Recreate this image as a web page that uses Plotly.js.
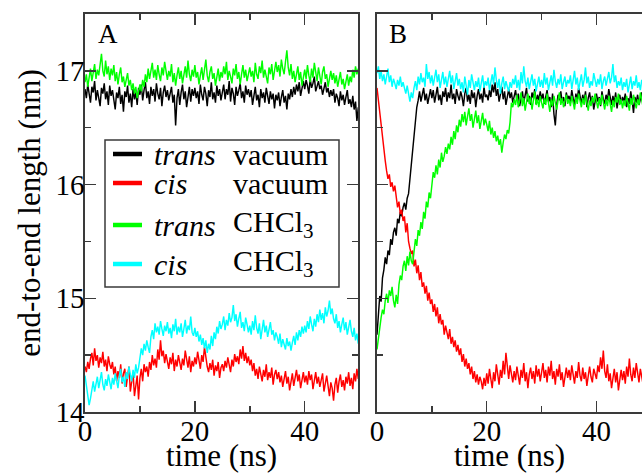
<!DOCTYPE html>
<html>
<head>
<meta charset="utf-8">
<script src="https://cdn.plot.ly/plotly-3.0.1.min.js"></script>
<style>html,body{margin:0;padding:0;background:#fff;}#chart{width:642px;height:473px;}</style>
</head>
<body>
<div id="chart"></div>
<script>
// sampling interval of every series (ns), series start at t = 0
const timeStep = 0.25;

// ---- Panel A : end-to-end length (nm) ----
const aTransVacuum = [
16.84,16.76,16.88,16.79,16.72,16.86,16.81,16.91,16.74,16.83,16.77,16.69,16.85,16.80,16.89,16.75,16.82,16.70,16.87,16.78,
16.83,16.73,16.66,16.81,16.76,16.86,16.71,16.79,16.64,16.82,16.77,16.87,16.72,16.80,16.68,16.84,16.75,16.81,16.70,16.85,
16.79,16.88,16.74,16.83,16.90,16.76,16.82,16.71,16.86,16.78,16.84,16.73,16.89,16.80,16.75,16.85,16.69,16.81,16.87,16.77,
16.83,16.74,16.80,16.86,16.72,16.79,16.52,16.76,16.84,16.70,16.81,16.88,16.75,16.82,16.68,16.79,16.86,16.73,16.84,16.78,
16.85,16.76,16.82,16.71,16.88,16.79,16.74,16.86,16.80,16.69,16.83,16.77,16.90,16.75,16.81,16.72,16.87,16.78,16.84,16.74,
16.82,16.88,16.75,16.84,16.79,16.91,16.73,16.85,16.80,16.70,16.86,16.78,16.83,16.89,16.76,16.82,16.72,16.87,16.79,16.84,
16.77,16.83,16.70,16.80,16.86,16.74,16.79,16.68,16.84,16.76,16.81,16.72,16.85,16.78,16.71,16.82,16.75,16.80,16.67,16.79,
16.74,16.81,16.69,16.77,16.83,16.72,16.78,16.66,16.80,16.75,16.84,16.77,16.86,16.79,16.88,16.82,16.90,16.78,16.85,16.91,
16.84,16.92,16.87,16.80,16.93,16.85,16.89,16.95,16.82,16.88,16.91,16.84,16.87,16.79,16.86,16.90,16.81,16.85,16.77,16.83,
16.78,16.84,16.72,16.80,16.76,16.69,16.82,16.74,16.79,16.70,16.77,16.83,16.71,16.75,16.68,16.78,16.66,16.73,16.56,16.68];

const aCisVacuum = [
14.40,14.35,14.44,14.38,14.47,14.52,14.41,14.56,14.45,14.50,14.39,14.48,14.43,14.53,14.40,14.46,14.36,14.49,14.42,14.38,
14.44,14.33,14.40,14.27,14.36,14.30,14.42,14.25,14.34,14.38,14.22,14.31,14.40,14.18,14.29,14.35,14.14,14.26,14.32,14.11,
14.30,14.38,14.27,14.42,14.35,14.40,14.31,14.44,14.37,14.50,14.41,14.47,14.39,14.55,14.46,14.63,14.49,14.54,14.43,14.51,
14.45,14.38,14.48,14.42,14.52,14.36,14.46,14.40,14.50,14.43,14.37,14.47,14.41,14.54,14.44,14.39,14.49,14.35,14.45,14.40,
14.48,14.42,14.53,14.45,14.38,14.50,14.44,14.57,14.46,14.40,14.35,14.43,14.37,14.46,14.32,14.41,14.36,14.44,14.30,14.39,
14.42,14.36,14.45,14.39,14.48,14.41,14.35,14.46,14.40,14.51,14.44,14.49,14.42,14.55,14.47,14.58,14.45,14.52,14.43,14.49,
14.41,14.46,14.36,14.43,14.32,14.38,14.29,14.40,14.34,14.27,14.37,14.31,14.42,14.28,14.35,14.30,14.39,14.24,14.33,14.37,
14.29,14.35,14.26,14.32,14.22,14.30,14.36,14.25,14.31,14.19,14.28,14.34,14.23,14.30,14.37,14.27,14.33,14.21,14.29,14.35,
14.26,14.32,14.24,14.36,14.28,14.33,14.20,14.30,14.35,14.25,14.31,14.22,14.29,14.34,14.18,14.27,14.32,14.23,14.14,14.26,
14.21,14.10,14.24,14.30,14.17,14.27,14.33,14.22,14.28,14.19,14.31,14.25,14.35,14.23,14.30,14.20,14.34,14.27,14.38,14.29];

const aTransCHCl3 = [
16.90,16.97,16.86,16.94,17.02,16.91,16.99,17.06,16.93,17.01,16.96,17.08,17.15,17.00,16.95,17.09,16.97,17.04,16.92,17.02,
16.96,17.05,16.91,16.99,16.88,16.97,17.03,16.90,16.95,16.86,16.93,16.98,16.87,16.92,16.83,16.89,16.80,16.86,16.76,16.84,
16.88,16.82,16.92,16.86,16.97,16.90,17.02,16.93,16.99,17.07,16.94,17.01,16.92,17.05,16.97,16.91,17.03,16.96,17.08,16.98,
16.92,17.00,16.95,17.06,16.90,16.98,16.87,16.96,17.03,16.93,17.00,16.89,16.97,17.04,16.94,17.09,16.97,16.91,17.01,16.95,
17.05,16.94,16.99,16.88,16.96,17.03,16.92,17.00,17.10,16.96,16.90,16.99,17.04,16.93,16.98,16.87,16.95,17.02,16.91,16.99,
16.94,17.04,16.97,17.08,16.92,17.00,16.95,16.89,17.02,16.96,17.06,16.93,16.99,16.88,16.97,17.05,16.94,17.01,16.91,16.98,
17.03,16.95,17.00,16.90,17.07,16.97,16.93,17.04,16.98,17.09,16.94,17.01,16.96,16.89,17.03,16.97,17.06,16.92,17.00,17.08,
16.99,17.05,16.95,17.10,17.02,16.97,17.08,17.18,17.03,16.96,17.06,16.93,17.00,16.90,16.97,17.04,16.92,16.99,16.87,16.95,
17.01,16.93,17.05,16.96,16.90,17.02,16.94,17.07,16.98,16.91,17.03,16.95,16.88,16.99,17.04,16.93,16.97,16.86,16.95,17.00,
16.92,16.98,16.89,16.96,16.86,16.94,16.99,16.88,16.93,16.84,16.91,16.97,16.87,16.95,16.90,17.01,16.94,17.04,16.97,17.02];

const aCisCHCl3 = [
14.32,14.22,14.15,14.06,14.12,14.20,14.27,14.18,14.25,14.31,14.21,14.28,14.35,14.24,14.19,14.29,14.23,14.33,14.26,14.20,
14.30,14.24,14.34,14.27,14.21,14.32,14.38,14.26,14.31,14.22,14.35,14.29,14.40,14.33,14.27,14.37,14.30,14.42,14.34,14.39,
14.48,14.56,14.50,14.60,14.54,14.63,14.57,14.52,14.66,14.72,14.64,14.78,14.70,14.75,14.68,14.80,14.73,14.67,14.76,14.71,
14.79,14.69,14.74,14.65,14.77,14.71,14.82,14.68,14.75,14.70,14.78,14.66,14.73,14.81,14.69,14.76,14.72,14.84,14.70,14.67,
14.74,14.66,14.71,14.62,14.68,14.59,14.65,14.56,14.63,14.52,14.60,14.55,14.67,14.58,14.70,14.64,14.75,14.69,14.80,14.73,
14.77,14.84,14.72,14.81,14.76,14.87,14.79,14.83,14.94,14.80,14.86,14.75,14.82,14.88,14.74,14.79,14.71,14.83,14.77,14.70,
14.76,14.68,14.80,14.72,14.85,14.74,14.69,14.78,14.64,14.73,14.81,14.70,14.76,14.66,14.74,14.79,14.68,14.72,14.63,14.70,
14.66,14.60,14.69,14.57,14.64,14.59,14.55,14.65,14.58,14.62,14.54,14.61,14.67,14.59,14.70,14.63,14.72,14.66,14.75,14.69,
14.76,14.70,14.80,14.73,14.84,14.77,14.71,14.82,14.75,14.86,14.79,14.90,14.81,14.87,14.78,14.92,14.84,14.89,14.98,14.86,
14.91,14.82,14.78,14.86,14.74,14.80,14.70,14.77,14.83,14.72,14.79,14.68,14.75,14.81,14.71,14.66,14.74,14.63,14.69,14.60];

// ---- Panel B : end-to-end length (nm) ----
const bTransVacuum = [
14.68,14.88,15.02,14.97,15.18,15.25,15.36,15.30,15.42,15.38,15.52,15.47,15.58,15.62,15.55,15.70,15.66,15.76,15.72,15.80,
15.84,15.78,15.88,15.92,16.05,16.20,16.33,16.47,16.58,16.68,16.74,16.82,16.73,16.78,16.85,16.74,16.80,16.71,16.79,16.84,
16.76,16.83,16.72,16.80,16.86,16.74,16.79,16.70,16.82,16.77,16.85,16.73,16.81,16.76,16.88,16.75,16.80,16.71,16.84,16.78,
16.74,16.82,16.77,16.69,16.80,16.85,16.73,16.79,16.71,16.83,16.76,16.81,16.68,16.78,16.84,16.75,16.80,16.72,16.86,16.77,
16.79,16.74,16.83,16.77,16.88,16.81,16.90,16.78,16.84,16.73,16.80,16.86,16.75,16.82,16.70,16.79,16.84,16.76,16.81,16.72,
16.78,16.83,16.74,16.80,16.69,16.77,16.82,16.72,16.79,16.85,16.73,16.78,16.70,16.81,16.76,16.84,16.71,16.79,16.74,16.82,
16.75,16.80,16.71,16.78,16.83,16.73,16.77,16.68,16.80,16.62,16.52,16.70,16.79,16.74,16.82,16.72,16.77,16.69,16.81,16.75,
16.78,16.72,16.83,16.76,16.70,16.80,16.74,16.85,16.77,16.71,16.79,16.73,16.82,16.68,16.76,16.81,16.72,16.78,16.66,16.75,
16.80,16.73,16.77,16.69,16.82,16.75,16.71,16.79,16.74,16.84,16.76,16.70,16.78,16.72,16.81,16.67,16.75,16.79,16.71,16.77,
16.73,16.80,16.68,16.76,16.71,16.82,16.74,16.63,16.77,16.72,16.79,16.70,16.75,16.81,16.73,16.69,16.78,16.74,16.80,16.72];

const bCisVacuum = [
16.85,16.74,16.60,16.49,16.40,16.29,16.21,16.12,16.05,16.09,15.98,16.02,15.94,15.99,15.88,15.80,15.85,15.74,15.78,15.68,
15.72,15.58,15.66,15.50,15.44,15.39,15.42,15.28,15.34,15.22,15.29,15.16,15.23,15.10,15.14,15.04,15.11,14.98,15.05,14.95,
14.99,14.88,14.95,14.84,14.92,14.78,14.86,14.77,14.81,14.68,14.76,14.70,14.64,14.73,14.60,14.66,14.57,14.63,14.53,14.59,
14.50,14.56,14.44,14.51,14.40,14.47,14.38,14.43,14.33,14.40,14.29,14.36,14.26,14.33,14.24,14.31,14.27,14.20,14.30,14.23,
14.34,14.25,14.38,14.29,14.21,14.35,14.27,14.42,14.31,14.24,14.37,14.30,14.45,14.33,14.52,14.38,14.29,14.41,14.34,14.26,
14.36,14.28,14.40,14.32,14.24,14.37,14.30,14.43,14.27,14.35,14.21,14.33,14.39,14.29,14.36,14.25,14.41,14.31,14.38,14.27,
14.34,14.43,14.30,14.37,14.26,14.40,14.32,14.45,14.29,14.36,14.24,14.38,14.31,14.42,14.28,14.35,14.22,14.33,14.39,14.30,
14.37,14.28,14.41,14.33,14.25,14.36,14.30,14.44,14.32,14.27,14.39,14.29,14.35,14.23,14.34,14.40,14.31,14.26,14.38,14.33,
14.29,14.41,14.35,14.48,14.38,14.54,14.36,14.30,14.42,14.27,14.34,14.21,14.32,14.38,14.26,14.35,14.19,14.30,14.37,14.28,
14.36,14.25,14.40,14.31,14.47,14.33,14.27,14.39,14.30,14.43,14.34,14.26,14.38,14.31,14.24,14.36,14.29,14.41,14.33,14.28];

const bTransCHCl3 = [
14.55,14.66,14.74,14.83,14.90,14.86,14.98,15.04,14.96,15.07,15.02,15.10,14.98,14.92,15.03,14.95,15.12,15.20,15.16,15.28,
15.33,15.24,15.37,15.29,15.41,15.33,15.30,15.44,15.52,15.46,15.60,15.55,15.67,15.61,15.76,15.70,15.85,15.80,15.93,15.88,
16.02,16.11,16.06,16.17,16.09,16.22,16.15,16.28,16.20,16.25,16.33,16.27,16.36,16.31,16.42,16.35,16.47,16.40,16.52,16.46,
16.57,16.51,16.62,16.55,16.64,16.52,16.60,16.67,16.56,16.62,16.50,16.59,16.65,16.54,16.61,16.49,16.57,16.63,16.52,16.58,
16.53,16.47,16.56,16.44,16.50,16.41,16.47,16.38,16.43,16.35,16.40,16.28,16.37,16.44,16.40,16.48,16.45,16.55,16.72,16.68,
16.75,16.70,16.79,16.68,16.74,16.81,16.69,16.76,16.65,16.73,16.80,16.71,16.77,16.66,16.74,16.82,16.70,16.75,16.68,16.78,
16.72,16.67,16.76,16.70,16.80,16.73,16.64,16.75,16.69,16.78,16.71,16.66,16.74,16.81,16.70,16.76,16.68,16.73,16.79,16.71,
16.75,16.69,16.78,16.72,16.66,16.77,16.71,16.80,16.74,16.68,16.76,16.70,16.79,16.73,16.65,16.74,16.69,16.77,16.72,16.80,
16.73,16.67,16.76,16.70,16.79,16.72,16.66,16.75,16.69,16.78,16.71,16.64,16.74,16.68,16.77,16.72,16.80,16.70,16.75,16.67,
16.74,16.69,16.78,16.71,16.65,16.76,16.70,16.79,16.73,16.67,16.75,16.70,16.81,16.72,16.68,16.77,16.71,16.76,16.69,16.74];

const bCisCHCl3 = [
16.98,17.04,16.93,17.00,16.91,16.97,16.88,16.95,17.02,16.90,16.96,16.86,16.93,16.89,16.84,16.92,16.87,16.95,16.86,16.90,
16.84,16.80,16.87,16.78,16.73,16.81,16.76,16.85,16.91,16.83,16.95,16.88,16.98,16.90,16.94,16.86,17.06,16.93,16.99,16.89,
16.96,16.87,16.93,17.01,16.90,16.97,16.85,16.94,16.99,16.88,16.95,16.86,16.92,17.00,16.89,16.96,16.84,16.91,16.98,16.87,
16.93,16.84,16.90,16.81,16.95,16.87,16.79,16.92,16.85,16.97,16.88,16.83,16.91,16.86,16.94,16.82,16.89,16.96,16.85,16.91,
16.87,16.94,16.83,16.90,16.97,16.88,17.03,16.92,16.85,16.93,16.80,16.89,16.95,16.84,16.91,16.86,16.82,16.90,16.85,16.93,
16.88,16.96,16.85,16.92,16.83,16.99,16.89,17.04,16.91,16.86,16.94,16.84,16.90,16.97,16.87,16.93,16.82,16.89,16.95,16.86,
16.92,16.85,16.98,16.88,16.94,16.83,16.90,16.96,16.87,17.01,16.91,16.85,16.93,16.88,16.97,16.84,16.90,16.95,16.86,16.92,
16.89,16.96,16.84,16.91,17.00,16.88,16.94,16.83,16.90,16.97,16.86,16.92,17.03,16.89,16.95,16.85,16.91,16.87,16.98,16.90,
16.86,16.93,16.88,16.97,16.84,16.91,16.95,16.87,16.92,16.99,16.89,16.94,17.06,16.90,16.96,16.85,16.91,16.87,16.94,16.83,
16.90,16.86,16.93,16.81,16.88,16.95,16.84,16.91,16.87,16.96,16.85,16.90,16.83,16.92,16.88,16.94,16.86,16.91,16.84,16.89];

const seriesNames = ["trans vacuum", "cis vacuum", "trans CHCl3", "cis CHCl3"];
const seriesColors = ["#000000", "#ff0000", "#00ff00", "#00ffff"];
const legendItalic = ["trans", "cis", "trans", "cis"];
const legendMedium = ["vacuum", "vacuum", "CHCl<sub>3</sub>", "CHCl<sub>3</sub>"];
const xTickVals = [0, 20, 40];
const yTickVals = [14, 15, 16, 17];
const panelLabels = ["A", "B"];

const panelA = [aTransVacuum, aCisVacuum, aTransCHCl3, aCisCHCl3];
const panelB = [bTransVacuum, bCisVacuum, bTransCHCl3, bCisCHCl3];

const FONT = "'Liberation Serif', 'Times New Roman', Times, serif";
const traces = [];
[panelA, panelB].forEach((panel, p) => {
  panel.forEach((vals, i) => {
    traces.push({
      type: "scatter", mode: "lines",
      x0: 0, dx: timeStep, y: vals,
      name: seriesNames[i],
      xaxis: p === 0 ? "x" : "x2", yaxis: p === 0 ? "y" : "y2",
      line: {color: seriesColors[i], width: 1.45},
      showlegend: false, hoverinfo: "skip"
    });
  });
});

const axisCommon = {
  showline: true, linecolor: "#3a3a3a", linewidth: 1.6,
  ticks: "inside", ticklen: 11, tickwidth: 1.5, tickcolor: "#3a3a3a",
  showgrid: false, zeroline: false,
  tickfont: {family: FONT, size: 29, color: "#000"}
};
const minorX = {dtick: 10, ticks: "inside", ticklen: 6, tickwidth: 1.5, tickcolor: "#3a3a3a", showgrid: false};
const minorY = {dtick: 0.5, ticks: "inside", ticklen: 6, tickwidth: 1.5, tickcolor: "#3a3a3a", showgrid: false};

const W = 642, H = 473, L = 85, R = 0, T = 14, B = 61;
const pw = W - L - R, ph = H - T - B;
const px = v => (v - L) / pw;
const py = v => (ph + T - v) / ph;

const shapes = [];
const annotations = [];
// panel letters
annotations.push({xref: "paper", yref: "paper", x: px(96), y: py(34), xanchor: "left", yanchor: "middle",
  text: panelLabels[0], showarrow: false, font: {family: FONT, size: 27, color: "#000"}});
annotations.push({xref: "paper", yref: "paper", x: px(387), y: py(34), xanchor: "left", yanchor: "middle",
  text: panelLabels[1], showarrow: false, font: {family: FONT, size: 27, color: "#000"}});
// legend box
shapes.push({type: "rect", xref: "paper", yref: "paper", x0: px(105), x1: px(339), y0: py(287), y1: py(140),
  line: {color: "#3a3a3a", width: 1.5}, fillcolor: "rgba(255,255,255,1)", layer: "above"});
const rowY = [154, 183, 225, 264];
seriesNames.forEach((n, i) => {
  shapes.push({type: "line", xref: "paper", yref: "paper", x0: px(113), x1: px(142), y0: py(rowY[i]), y1: py(rowY[i]),
    line: {color: seriesColors[i], width: 4.5}, layer: "above"});
  annotations.push({xref: "paper", yref: "paper", x: px(152), y: py(rowY[i]), xanchor: "left", yanchor: "middle",
    text: "<i>" + legendItalic[i] + "</i>", showarrow: false, font: {family: FONT, size: 30, color: "#000"}});
  const sub = legendMedium[i].indexOf("<sub>") >= 0;
  annotations.push({xref: "paper", yref: "paper", x: px(231), y: py(rowY[i] + (sub ? -1 : 0)), xanchor: "left", yanchor: "middle",
    text: legendMedium[i], showarrow: false, font: {family: FONT, size: 30, color: "#000"}});
});

const layout = {
  width: W, height: H,
  margin: {l: L, r: R, t: T, b: B, pad: 0},
  paper_bgcolor: "#fff", plot_bgcolor: "#fff",
  showlegend: false,
  font: {family: FONT, color: "#000"},
  xaxis: Object.assign({}, axisCommon, {domain: [0, px(358)], range: [0, 49.7], tickvals: xTickVals,
    mirror: "ticks", minor: minorX, anchor: "y", ticklabelstandoff: -7,
    title: {text: "time (ns)", font: {family: FONT, size: 31, color: "#000"}, standoff: 2}}),
  yaxis: Object.assign({}, axisCommon, {range: [14, 17.5], tickvals: yTickVals, mirror: "ticks", minor: minorY, anchor: "x",
    ticklabelstandoff: -7,
    title: {text: "end-to-end length (nm)", font: {family: FONT, size: 31, color: "#000"}, standoff: 6}}),
  xaxis2: Object.assign({}, axisCommon, {domain: [px(377), 1], range: [0, 48.3], tickvals: xTickVals,
    mirror: "ticks", minor: minorX, anchor: "y2", ticklabelstandoff: -7,
    title: {text: "time (ns)", font: {family: FONT, size: 31, color: "#000"}, standoff: 2}}),
  yaxis2: Object.assign({}, axisCommon, {range: [14, 17.5], tickvals: yTickVals, showticklabels: false,
    mirror: false, minor: minorY, anchor: "x2"}),
  shapes: shapes,
  annotations: annotations
};

Plotly.newPlot("chart", traces, layout, {staticPlot: true, displayModeBar: false});
</script>
</body>
</html>
